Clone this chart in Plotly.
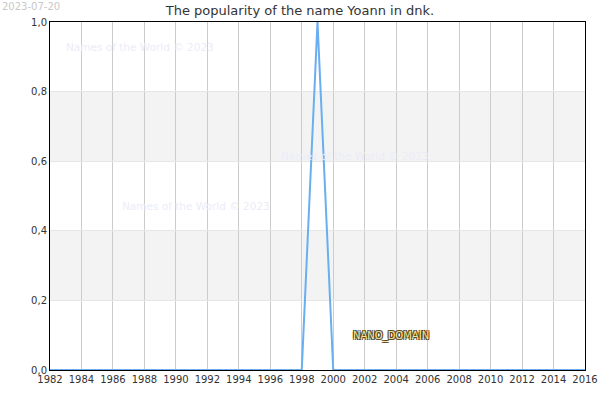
import plotly.graph_objects as go

years = list(range(1982, 2017))
values = [1.0 if y == 1999 else 0.0 for y in years]
yticks = [0, 0.2, 0.4, 0.6, 0.8, 1.0]
ytick_labels = ["0,0", "0,2", "0,4", "0,6", "0,8", "1,0"]
xticks = list(range(1982, 2017, 2))

fig = go.Figure(go.Scatter(x=years, y=values, mode="lines",
                           line=dict(color="#6aaef0", width=2), hoverinfo="skip"))
shapes = [dict(type="rect", xref="paper", yref="y", x0=0, x1=1, y0=a, y1=a + 0.2,
               fillcolor="#f3f3f3", line_width=0, layer="below") for a in (0.2, 0.6)]
wm = dict(text="Names of the World © 2023", showarrow=False, font=dict(color="#ececf8", size=10.5),
          xref="x")
sh = "1px 1px 0 #5a4510, -1px -1px 0 #5a4510, 1px -1px 0 #5a4510, -1px 1px 0 #5a4510"
annotations = [
    dict(wm, x=1987.7, y=0.927),
    dict(wm, x=2001.4, y=0.615),
    dict(wm, x=1991.3, y=0.47),
    dict(text="NANO_DOMAIN", x=2003.7, y=0.097, showarrow=False,
         font=dict(color="#f5e3a0", size=10, family="DejaVu Sans", shadow=sh)),
    dict(text="2023-07-20", xref="paper", yref="paper", x=-0.093, y=1.066, xanchor="left",
         yanchor="top", showarrow=False, font=dict(color="#c8c8c8", size=10)),
]
fig.update_layout(
    width=600, height=400, margin=dict(l=50, r=15, t=22, b=30, autoexpand=False),
    plot_bgcolor="white", paper_bgcolor="white",
    font=dict(family="DejaVu Sans", size=10, color="#333"),
    title=dict(text="The popularity of the name Yoann in dnk.", x=0.5, y=0.975, yanchor="middle",
               font=dict(size=13, color="#333")),
    showlegend=False, shapes=shapes, annotations=annotations,
    xaxis=dict(range=[1982, 2016], tickvals=xticks, showgrid=True, gridcolor="#cccccc",
               showline=True, linecolor="black", mirror=True, zeroline=False, ticks="",
               automargin=False),
    yaxis=dict(range=[0, 1], tickvals=yticks, ticktext=ytick_labels, showgrid=True,
               gridcolor="#e6e6e6", showline=True, linecolor="black", mirror=True,
               zeroline=False, ticks="", automargin=False),
)
fig.write_html("out.html", config={"displayModeBar": False},
               post_script="document.body.style.margin='0';document.body.style.overflow='hidden';")
